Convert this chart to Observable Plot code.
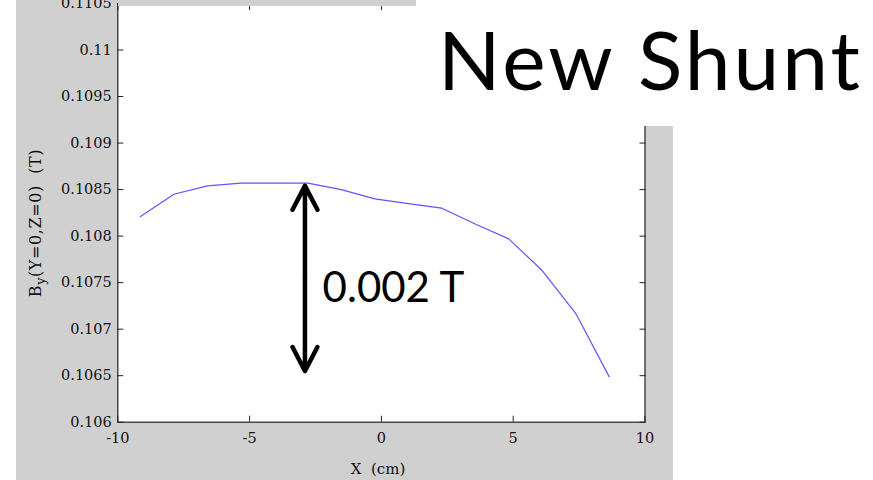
<!DOCTYPE html>
<html>
<head>
<meta charset="utf-8">
<script src="https://cdn.jsdelivr.net/npm/d3@7"></script>
<script src="https://cdn.jsdelivr.net/npm/@observablehq/plot@0.6"></script>
<style>
  html, body { margin: 0; padding: 0; background: #fff; }
  body { position: relative; width: 873px; height: 480px; overflow: hidden; }
  #fig { position: absolute; left: 16px; top: 0; width: 657px; height: 480px; background: #d0d0d0; }
  #chart { position: absolute; left: 16px; top: 0; }
  #strip { position: absolute; left: 118px; top: 0; width: 298px; height: 6px; background: #d0d0d0; }
  #box { position: absolute; left: 416px; top: 0; width: 457px; height: 126px; background: #fff; }
  #title { position: absolute; left: 438px; top: 16.6px; font-family: Lato, sans-serif; font-size: 82px; line-height: 82px; color: #000; white-space: nowrap; letter-spacing: 3px; }
  #ylab { position: absolute; left: 35px; top: 223px; transform: translate(-50%, -50%) rotate(-90deg); font-family: "DejaVu Serif", serif; font-size: 16px; letter-spacing: 0.6px; color: #111; white-space: nowrap; }
  #ylab sub { font-size: 0.8em; vertical-align: -0.35em; line-height: 0; }
  #xlab { position: absolute; left: 378px; top: 469px; transform: translate(-50%, -50%); font-family: "DejaVu Serif", serif; font-size: 15px; color: #111; white-space: pre; }
</style>
</head>
<body>
<div id="fig"></div>
<div id="chart"></div>
<div id="strip"></div>
<div id="box"></div>
<div id="title">New Shunt</div>
<div id="ylab">B<sub>y</sub>(Y=0,Z=0)&nbsp; (T)</div>
<div id="xlab">X  (cm)</div>
<script>
// Series: X position (cm) and B_y (T)
const xValues = [-9.14, -7.87, -6.60, -5.33, -4.06, -2.79, -1.52, -0.25, 1.02, 2.29, 3.56, 4.83, 6.10, 7.37, 8.64];
const byValues = [0.10821, 0.10845, 0.10854, 0.10857, 0.10857, 0.10857, 0.10850, 0.10840, 0.10835, 0.10830, 0.10813, 0.10797, 0.10763, 0.10717, 0.10649];

// Axis ticks and labels
const xTicks = [-10, -5, 0, 5, 10];
const xTickLabels = ["-10", "-5", "0", "5", "10"];
const yTicks = [0.106, 0.1065, 0.107, 0.1075, 0.108, 0.1085, 0.109, 0.1095, 0.11, 0.1105];
const yTickLabels = ["0.106", "0.1065", "0.107", "0.1075", "0.108", "0.1085", "0.109", "0.1095", "0.11", "0.1105"];

// Annotation: double-headed arrow and its label
const arrowX = -2.90;
const arrowTop = 0.10854;
const arrowBottom = 0.10655;
const annotText = ["0.002 T"];
const annotX = -2.23;
const annotY = 0.107434;

const data = xValues.map((x, i) => ({x, y: byValues[i]}));
const arrowMid = (arrowTop + arrowBottom) / 2;
const arrows = [
  {x: arrowX, y1: arrowMid, y2: arrowTop},
  {x: arrowX, y1: arrowMid, y2: arrowBottom}
];

const chart = Plot.plot({
  width: 657,
  height: 480,
  marginLeft: 101.3,
  marginRight: 28.5,
  marginTop: 3,
  marginBottom: 58.3,
  style: {background: "transparent", fontFamily: "DejaVu Serif, serif", fontSize: "14.5px", color: "#111"},
  x: {domain: [-10, 10]},
  y: {domain: [0.106, 0.1105]},
  marks: [
    Plot.frame({fill: "white", stroke: null}),
    Plot.line(data, {x: "x", y: "y", stroke: "#6b4fff", strokeWidth: 1.2}),
    Plot.arrow(arrows, {x1: "x", x2: "x", y1: "y1", y2: "y2", stroke: "black", strokeWidth: 4.5, headLength: 9, headAngle: 55, strokeLinecap: "round", strokeLinejoin: "round"}),
    Plot.text(annotText, {x: annotX, y: annotY, text: d => d, textAnchor: "start", fontFamily: "Lato, sans-serif", fontSize: 42, fill: "black"}),
    Plot.frame({stroke: "#222", strokeWidth: 1.2}),
    Plot.axisX({anchor: "bottom", ticks: xTicks, tickFormat: d => xTickLabels[xTicks.indexOf(d)], tickSize: -6, tickPadding: 16.8, label: null, stroke: "#222"}),
    Plot.axisX({anchor: "top", ticks: xTicks, tickFormat: () => "", tickSize: -6, label: null, stroke: "#222"}),
    Plot.axisY({anchor: "left", ticks: yTicks, tickFormat: d => yTickLabels[yTicks.indexOf(d)], tickSize: -6, tickPadding: 12, label: null, stroke: "#222"}),
    Plot.axisY({anchor: "right", ticks: yTicks, tickFormat: () => "", tickSize: -6, label: null, stroke: "#222"})
  ]
});
document.getElementById("chart").appendChild(chart);
</script>
</body>
</html>
